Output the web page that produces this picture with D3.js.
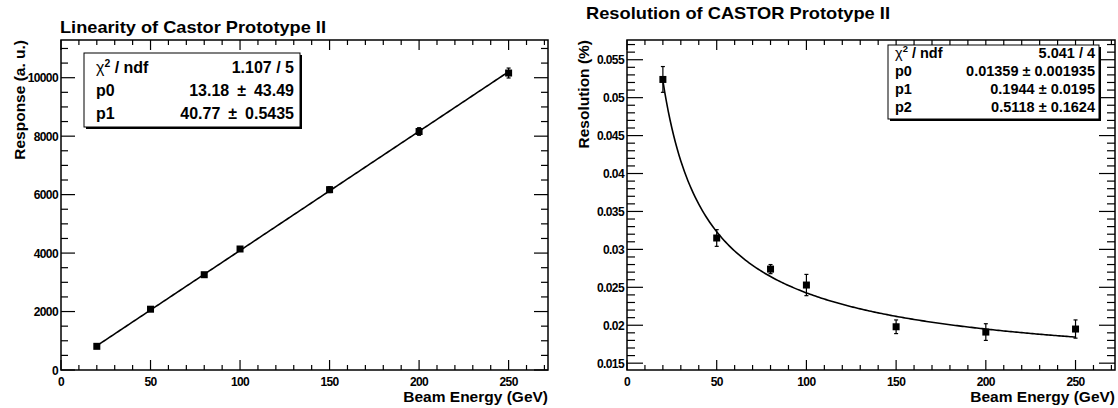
<!DOCTYPE html>
<html><head><meta charset="utf-8">
<script src="https://cdn.jsdelivr.net/npm/d3@7"></script>
<style>
body{margin:0;background:#fff;}
text{font-family:"Liberation Sans",Arial,sans-serif;font-weight:bold;fill:#000;}
</style></head>
<body><svg id="c" width="1118" height="408"></svg>
<script>
// ---- data ----
const energies = [20, 50, 80, 100, 150, 200, 250];
const response = [810, 2080, 3260, 4140, 6170, 8160, 10160];
const responseErr = [60, 60, 70, 80, 100, 130, 170];
const resolution = [0.0524, 0.0315, 0.0274, 0.0253, 0.0198, 0.0191, 0.0195];
const resolutionErr = [0.0017, 0.0011, 0.0006, 0.0014, 0.0009, 0.0011, 0.0012];
const linFitPars = [13.18, 40.77];
const resFitPars = [0.01359, 0.1944, 0.5118];
const linStats = [["χ2 / ndf", "1.107 / 5"], ["p0", "13.18\u2002±\u200243.49"], ["p1", "40.77\u2002±\u20020.5435"]];
const resStats = [["χ2 / ndf", "5.041 / 4"], ["p0", "0.01359 ± 0.001935"], ["p1", "0.1944 ± 0.0195"], ["p2", "0.5118 ± 0.1624"]];
const xTicks = [0, 50, 100, 150, 200, 250];
const linYTicks = [0, 2000, 4000, 6000, 8000, 10000];
const resYTicks = [0.015, 0.02, 0.025, 0.03, 0.035, 0.04, 0.045, 0.05, 0.055];

const svg = d3.select("#c");

function panel(o) {
  const g = svg.append("g");
  const x = d3.scaleLinear().domain(o.xDom).range([o.x0, o.x1]);
  const y = d3.scaleLinear().domain(o.yDom).range([o.y1, o.y0]);
  // ticks
  const tk = g.append("g").attr("stroke", "#000").attr("stroke-width", 1.2);
  const xMinor = d3.range(0, o.xDom[1] + 1e-9, 10);
  xMinor.forEach(v => {
    const major = Math.abs(v % 50) < 1e-9;
    const L = major ? 10 : 5;
    tk.append("line").attr("x1", x(v)).attr("x2", x(v)).attr("y1", o.y1).attr("y2", o.y1 - L);
    tk.append("line").attr("x1", x(v)).attr("x2", x(v)).attr("y1", o.y0).attr("y2", o.y0 + L);
  });
  const yMinor = d3.range(Math.ceil(o.yDom[0] / o.yMinor - 1e-6) * o.yMinor, o.yDom[1], o.yMinor);
  yMinor.forEach(v => {
    const r = v / o.yMajor;
    const major = Math.abs(r - Math.round(r)) < 1e-6;
    const L = major ? o.yTickL : o.yTickL / 2;
    tk.append("line").attr("x1", o.x0).attr("x2", o.x0 + L).attr("y1", y(v)).attr("y2", y(v));
    tk.append("line").attr("x1", o.x1).attr("x2", o.x1 - L).attr("y1", y(v)).attr("y2", y(v));
  });
  // frame
  g.append("rect").attr("x", o.x0).attr("y", o.y0).attr("width", o.x1 - o.x0).attr("height", o.y1 - o.y0)
    .attr("fill", "none").attr("stroke", "#000").attr("stroke-width", 1.5);
  // tick labels
  g.selectAll(".xl").data(xTicks).join("text")
    .attr("x", d => x(d)).attr("y", o.y1 + 16).attr("text-anchor", "middle")
    .attr("font-size", 12).attr("letter-spacing", -0.6).text(d => d);
  g.selectAll(".yl").data(o.yTicks).join("text")
    .attr("x", o.x0 - 3).attr("y", d => y(d) + 4.5).attr("text-anchor", "end")
    .attr("font-size", 12).attr("letter-spacing", -0.6).text(o.fmt);
  // titles
  g.append("text").attr("x", o.titleX).attr("y", o.titleY).attr("font-size", 17)
    .attr("textLength", o.titleW).attr("lengthAdjust", "spacingAndGlyphs").text(o.title);
  g.append("text").attr("x", o.x1).attr("y", 402).attr("text-anchor", "end").attr("font-size", 15.5).text("Beam Energy (GeV)");
  g.append("text").attr("transform", `translate(${o.yTitleX},${o.y0}) rotate(-90)`).attr("text-anchor", "end")
    .attr("font-size", 15.5).text(o.yTitle);
  // fit curve
  const xs = d3.range(20, 250.01, 1);
  g.append("path").attr("d", d3.line().x(d => x(d)).y(d => y(o.fit(d)))(xs))
    .attr("fill", "none").attr("stroke", "#000").attr("stroke-width", 1.6);
  // error bars + points
  const pts = g.append("g");
  o.vals.forEach((v, i) => {
    const cx = x(energies[i]);
    const e = o.errs[i];
    pts.append("line").attr("x1", cx).attr("x2", cx).attr("y1", y(v - e)).attr("y2", y(v + e)).attr("stroke", "#000").attr("stroke-width", 1.2);
    [v - e, v + e].forEach(w => pts.append("line").attr("x1", cx - 2).attr("x2", cx + 2).attr("y1", y(w)).attr("y2", y(w)).attr("stroke", "#000").attr("stroke-width", 1.2));
    pts.append("rect").attr("x", cx - 3.5).attr("y", y(v) - 3.5).attr("width", 7).attr("height", 7).attr("fill", "#000");
  });
  // stats box
  const b = o.box;
  g.append("rect").attr("x", b.x + 2).attr("y", b.y + 2).attr("width", b.w).attr("height", b.h).attr("fill", "#000");
  g.append("rect").attr("x", b.x).attr("y", b.y).attr("width", b.w).attr("height", b.h).attr("fill", "#fff").attr("stroke", "#000").attr("stroke-width", 1);
  o.stats.forEach((r, i) => {
    const ty = b.y + b.first + i * b.step;
    const t = g.append("text").attr("x", b.x + b.pad).attr("y", ty).attr("font-size", b.fs);
    if (r[0].startsWith("χ2")) {
      t.append("tspan").attr("font-weight", "normal").text("χ");
      t.append("tspan").attr("font-size", b.fs * 0.65).attr("dy", -b.fs * 0.4).text("2");
      t.append("tspan").attr("dy", b.fs * 0.4).text(" / ndf");
    } else t.text(r[0]);
    g.append("text").attr("x", b.x + b.w - b.padR).attr("y", ty).attr("text-anchor", "end").attr("font-size", b.fs).text(r[1]);
  });
}

panel({
  x0: 61, x1: 548, y0: 40, y1: 370, xDom: [0, 272], yDom: [0, 11290],
  yMinor: 500, yMajor: 2000, yTickL: 14, yTicks: linYTicks, fmt: d => d,
  title: "Linearity of Castor Prototype II", titleX: 60, titleY: 33, titleW: 266,
  yTitle: "Response (a. u.)", yTitleX: 25,
  fit: e => linFitPars[0] + linFitPars[1] * e,
  vals: response, errs: responseErr, stats: linStats,
  box: {x: 84, y: 53, w: 216, h: 74, pad: 12, padR: 6, first: 20, step: 23, fs: 16}
});
panel({
  x0: 627, x1: 1115, y0: 40, y1: 370, xDom: [0, 272], yDom: [0.0141, 0.0576],
  yMinor: 0.001, yMajor: 0.005, yTickL: 16, yTicks: resYTicks, fmt: d => String(+d.toFixed(3)),
  title: "Resolution of CASTOR Prototype II", titleX: 586, titleY: 19, titleW: 304,
  yTitle: "Resolution (%)", yTitleX: 589,
  fit: e => Math.sqrt(resFitPars[0] ** 2 + resFitPars[1] ** 2 / e + resFitPars[2] ** 2 / (e * e)),
  vals: resolution, errs: resolutionErr, stats: resStats,
  box: {x: 888, y: 45, w: 211, h: 74, pad: 7, padR: 4, first: 13, step: 18, fs: 14.5}
});
</script></body></html>
